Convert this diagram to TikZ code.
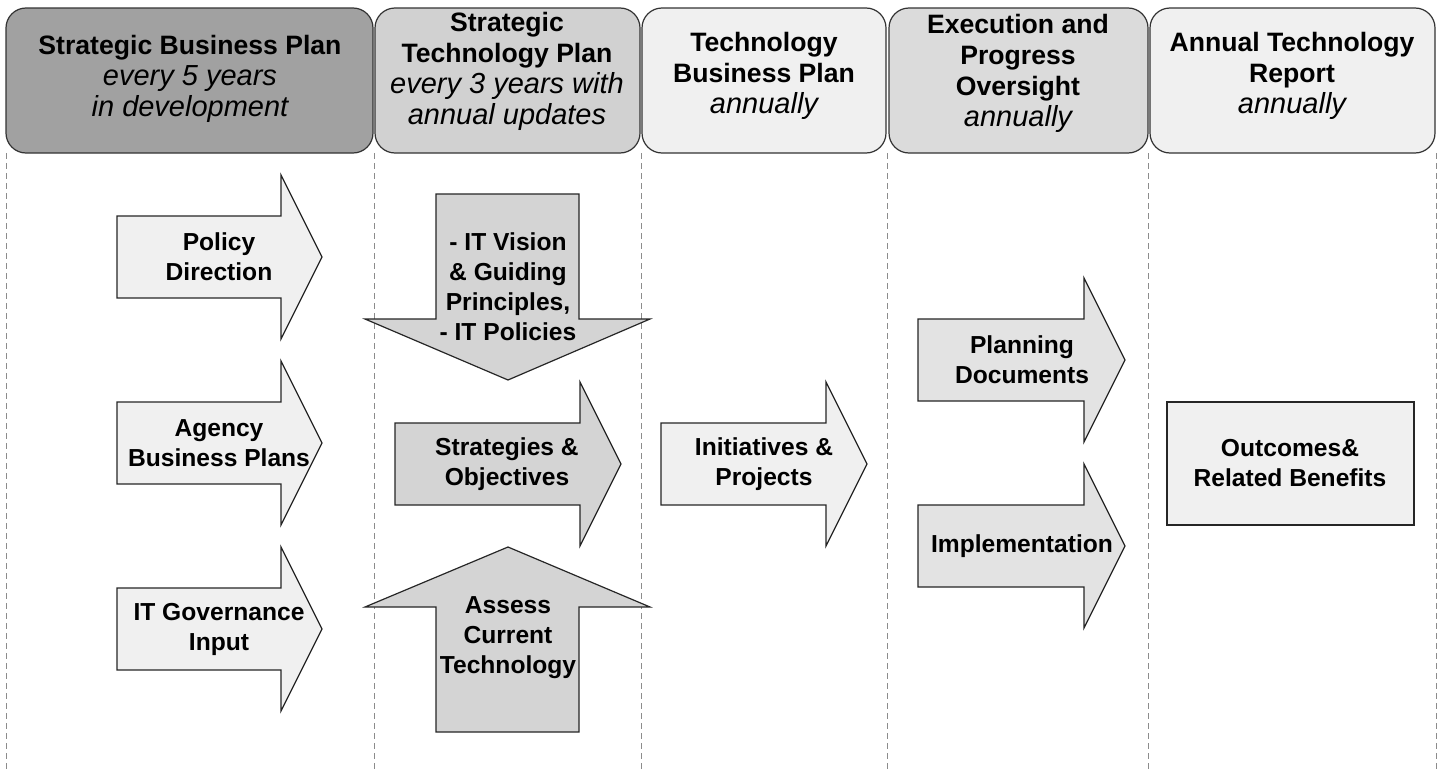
\documentclass[tikz,border=0pt]{standalone}
\usepackage{fontspec}
\setmainfont{Liberation Sans}

\newcommand{\rarr}[4][]{% left x, middle y, shaft length
  \draw[arrowbox,#1] (#2,#3-41) -- ++(#4,0) -- ++(0,-41) -- ++(41,82)
    -- ++(-41,82) -- ++(0,-41) -- ++(-#4,0) -- cycle;}
\newcommand{\subtxt}[1]{{\fontsize{14.5}{15.5}\selectfont\mdseries\itshape #1}}

\begin{document}
\begin{tikzpicture}[x=0.5pt,y=-0.5pt,
  hdr/.style={draw=black!80,rounded corners=10pt,line width=0.6pt},
  ttl/.style={font=\fontsize{13.3}{15.5}\selectfont\bfseries,align=center,inner sep=0pt},
  lbl/.style={font=\fontsize{12.3}{15}\selectfont\bfseries,align=center,inner sep=0pt},
  arrowbox/.style={draw=black!85,line width=0.6pt},
  colline/.style={draw=black!45,dash pattern=on 3pt off 2pt,line width=0.4pt}]

\useasboundingbox[fill=white] (0,0) rectangle (1441,771);

% column separators
\foreach \cx in {6,374,641,887,1148,1436}
  \draw[colline] (\cx,153) -- (\cx,771);

% header row
\draw[hdr,fill=black!37] (6,8) rectangle (373,153);
\draw[hdr,fill=black!18] (375,8) rectangle (640,153);
\draw[hdr,fill=black!6] (642,8) rectangle (886,153);
\draw[hdr,fill=black!14] (889,8) rectangle (1148,153);
\draw[hdr,fill=black!6] (1150,8) rectangle (1435,153);

\node[ttl] (sbp) at (190,79) {Strategic Business Plan\\\subtxt{every 5 years}\\\subtxt{in development}};
\node[ttl] (stp) at (507,71) {Strategic\\Technology Plan\\\subtxt{every 3 years with}\\\subtxt{annual updates}};
\node[ttl] (tbp) at (764,76) {Technology\\Business Plan\\\subtxt{annually}};
\node[ttl] (epo) at (1018,73) {Execution and\\Progress\\Oversight\\\subtxt{annually}};
\node[ttl] (atr) at (1292,76) {Annual Technology\\Report\\\subtxt{annually}};

% column 1: inputs
\foreach \cy/\nm/\txt in {257/policy/{Policy\\Direction},
    443/agency/{Agency\\Business Plans},
    629/itgov/{IT Governance\\Input}} {
  \rarr[fill=black!6]{117}{\cy}{164}
  \node[lbl] (\nm) at (219,\cy) {\txt};
}

% column 2
\draw[arrowbox,fill=black!17] (436,194) -- (579,194) -- (579,319) -- (650,319)
  -- (508,380) -- (365,319) -- (436,319) -- cycle;
\node[lbl] (vision) at (508,287) {- IT Vision\\\& Guiding\\Principles,\\- IT Policies};

\rarr[fill=black!17]{395}{464}{185}
\node[lbl] (strat) at (507,464) {Strategies \&\\Objectives};

\draw[arrowbox,fill=black!17] (508,547) -- (650,607) -- (579,607) -- (579,732)
  -- (436,732) -- (436,607) -- (365,607) -- cycle;
\node[lbl] (assess) at (508,638) {Assess\\Current\\Technology};

% column 3
\rarr[fill=black!6]{661}{464}{165}
\node[lbl] (init) at (764,464) {Initiatives \&\\Projects};

% column 4
\rarr[fill=black!11]{918}{360}{166}
\node[lbl] (plan) at (1022,360) {Planning\\Documents};
\rarr[fill=black!11]{918}{546}{166}
\node[lbl] (impl) at (1022,546) {Implementation};

% column 5
\draw[arrowbox,fill=black!6] (1167,402) rectangle (1414,525);
\node[lbl] (outc) at (1290,463) {Outcomes\&\\Related Benefits};

\end{tikzpicture}
\end{document}
